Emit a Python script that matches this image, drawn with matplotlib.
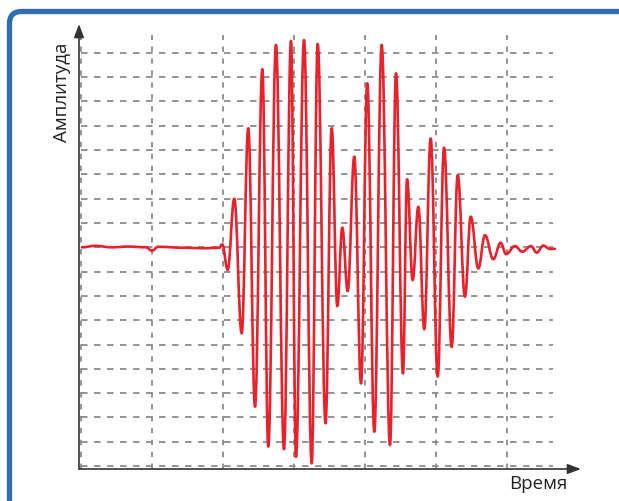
import matplotlib
matplotlib.use("Agg")
import matplotlib.pyplot as plt
from matplotlib.path import Path
from matplotlib.patches import PathPatch, FancyBboxPatch
from matplotlib.transforms import IdentityTransform

# ---------------------------------------------------------------------------
# Data: turning points of the signal (time, amplitude), in grid units
# ---------------------------------------------------------------------------
time_pts = [
    0.014, 0.197, 0.437, 0.662, 0.915, 1.000, 1.085, 1.465, 1.746, 1.944,
    1.990, 2.066, 2.159, 2.263, 2.356, 2.451, 2.554, 2.638, 2.746, 2.859,
    2.958, 3.028, 3.141, 3.249, 3.334, 3.444, 3.531, 3.610, 3.680, 3.756,
    3.849, 3.944, 4.032, 4.131, 4.235, 4.352, 4.437, 4.535, 4.592, 4.672,
    4.751, 4.835, 4.925, 5.024, 5.113, 5.221, 5.306, 5.408, 5.489, 5.596,
    5.690, 5.807, 5.911, 5.986, 6.113, 6.215, 6.338, 6.418, 6.511, 6.606,
    6.676,
]
amp_pts = [
    0.00, 0.06, 0.00, 0.03, 0.00, -0.14, 0.02, -0.02, -0.04, -0.02,
    0.12, -0.93, 2.00, -3.54, 4.90, -6.56, 7.33, -8.20, 8.33, -8.31,
    8.49, -8.62, 8.53, -8.89, 8.37, -7.24, 4.90, -2.42, 0.81, -1.80,
    3.73, -5.60, 6.75, -7.59, 8.33, -8.14, 7.16, -5.19, 2.80, -1.35,
    1.67, -3.37, 4.48, -5.32, 4.10, -4.10, 2.97, -2.03, 1.26, -0.87,
    0.50, -0.49, 0.19, -0.28, 0.05, -0.18, 0.05, -0.22, 0.07, -0.07,
    -0.06,
]

x_grid = [0, 1, 2, 3, 4, 5, 6]
y_grid = list(range(-9, 9))

x_label = "Время"
y_label = "Амплитуда"

W, H = 619, 501
fig = plt.figure(figsize=(W / 100, H / 100), dpi=100)
fig.patch.set_facecolor("white")

# blue frame, clipped by the picture edge on the right and bottom
frame = FancyBboxPatch((9.5, -40), 660, H - 11.5 + 40,
                       boxstyle="round,pad=0,rounding_size=12",
                       transform=IdentityTransform(), facecolor="none",
                       edgecolor="#2f6db4", linewidth=3.8, zorder=0)
fig.patches.append(frame)

# axes placed so that the spines sit where the arrows are
left_px, right_px, top_px, bot_px = 79, 581, 24, 469
ax = fig.add_axes([left_px / W, 1 - bot_px / H,
                   (right_px - left_px) / W, (bot_px - top_px) / H])
t0 = (left_px - 81) / 71
t1 = (right_px - 81) / 71
a0 = (247.3 - bot_px) / 24.3
a1 = (247.3 - top_px) / 24.3
ax.set_xlim(t0, t1)
ax.set_ylim(a0, a1)
ax.set_axis_off()

grid_col = "#8a8a8a"
for gy in y_grid:
    ax.plot([0, 6.65], [gy, gy], color=grid_col, lw=1.3,
            dashes=(3.6, 3.6), zorder=1)
for gx in x_grid:
    ax.plot([gx, gx], [a0, 8.74], color=grid_col, lw=1.3,
            dashes=(3.0, 3.6), zorder=1)

# signal: smooth curve through the turning points (horizontal tangents)
verts = [(time_pts[0], amp_pts[0])]
codes = [Path.MOVETO]
k = 0.4
for i in range(1, len(time_pts)):
    ta, aa = time_pts[i - 1], amp_pts[i - 1]
    tb, ab = time_pts[i], amp_pts[i]
    d = tb - ta
    verts += [(ta + k * d, aa), (tb - k * d, ab), (tb, ab)]
    codes += [Path.CURVE4] * 3
sig = PathPatch(Path(verts, codes), facecolor="none", edgecolor="#e8212b",
                linewidth=1.9, capstyle="round", joinstyle="round", zorder=3)
ax.add_patch(sig)

# axes with arrow heads
arrow_kw = dict(arrowstyle="-|>,head_length=0.8,head_width=0.3",
                color="#333333", lw=1.2, shrinkA=0, shrinkB=0)
ax.annotate("", xy=(1, 0), xytext=(0, 0), xycoords="axes fraction",
            arrowprops=arrow_kw, annotation_clip=False, zorder=4)
ax.annotate("", xy=(0, 1), xytext=(0, 0), xycoords="axes fraction",
            arrowprops=arrow_kw, annotation_clip=False, zorder=4)

fig.text(62 / W, 1 - 92 / H, y_label, rotation=90, ha="center", va="center",
         fontsize=13.5, family="Open Sans", color="#222222")
fig.text(538 / W, 1 - 484 / H, x_label, ha="center", va="center",
         fontsize=13.5, family="Open Sans", color="#222222")

fig.savefig("out.png", dpi=100)
